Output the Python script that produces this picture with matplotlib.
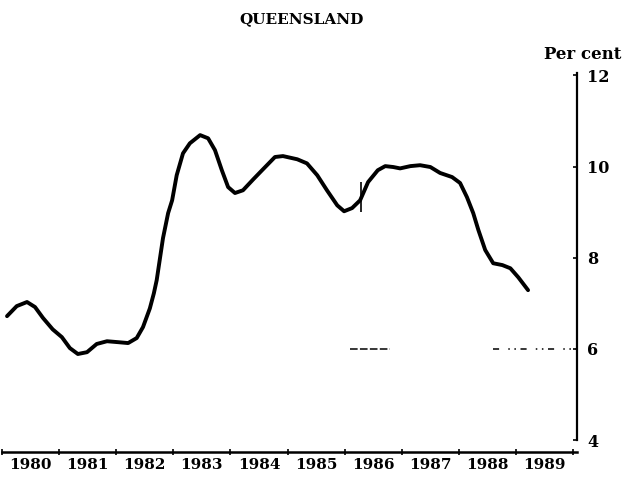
import matplotlib
matplotlib.use("Agg")
import matplotlib.pyplot as plt

# unemployment rate, Queensland
years = [1980.09, 1980.26, 1980.44, 1980.58, 1980.72, 1980.89, 1981.05, 1981.19,
         1981.33, 1981.49, 1981.66, 1981.84, 1982.03, 1982.21, 1982.36, 1982.47,
         1982.59, 1982.66, 1982.71, 1982.82, 1982.91, 1982.98, 1983.06, 1983.17,
         1983.29, 1983.47, 1983.61, 1983.73, 1983.85, 1983.96, 1984.08, 1984.22,
         1984.40, 1984.57, 1984.78, 1984.92, 1985.17, 1985.34, 1985.52, 1985.69,
         1985.87, 1985.99, 1986.13, 1986.27, 1986.41, 1986.58, 1986.71, 1986.85,
         1986.97, 1987.15, 1987.32, 1987.50, 1987.67, 1987.88, 1988.02, 1988.14,
         1988.25, 1988.34, 1988.46, 1988.60, 1988.76, 1988.90, 1989.04, 1989.21]
rate = [6.72, 6.94, 7.03, 6.92, 6.68, 6.43, 6.26, 6.02,
        5.89, 5.93, 6.11, 6.17, 6.15, 6.13, 6.24, 6.48,
        6.89, 7.22, 7.51, 8.43, 8.98, 9.26, 9.81, 10.29,
        10.51, 10.69, 10.62, 10.36, 9.92, 9.55, 9.42, 9.48,
        9.72, 9.94, 10.21, 10.23, 10.16, 10.07, 9.81, 9.48,
        9.15, 9.02, 9.09, 9.26, 9.66, 9.92, 10.01, 9.99,
        9.96, 10.01, 10.03, 9.99, 9.86, 9.77, 9.64, 9.33,
        8.98, 8.61, 8.17, 7.88, 7.84, 7.77, 7.57, 7.29]

year_labels = ["1980", "1981", "1982", "1983", "1984",
               "1985", "1986", "1987", "1988", "1989"]
y_ticks = [4, 6, 8, 10, 12]

# series break marker and faint reference level at 6 per cent
break_year = 1986.28
ref_level = 6

FONT = "DejaVu Serif"

fig = plt.figure(figsize=(6.24, 4.84), dpi=100)
ax = fig.add_axes([0.003, 0.066, 0.922, 0.783])

ax.plot(years, rate, color="black", lw=2.8, solid_joinstyle="round",
        solid_capstyle="round")
ax.vlines(break_year, 9.0, 9.66, color="black", lw=1.2)

# broken gridline at 6
ax.hlines(ref_level, 1986.09, 1986.79, color="black", lw=1.1,
          linestyles=(0, (5, 1.5)))
ax.hlines(ref_level, 1988.6, 1990.07, color="black", lw=1.1,
          linestyles=(0, (4, 6, 1, 3, 1, 3)))

ax.set_xlim(1980, 1990.07)
ax.set_ylim(3.74, 12.05)

for side in ["top", "left"]:
    ax.spines[side].set_visible(False)
ax.spines["right"].set_bounds(4, 12.05)
ax.spines["right"].set_linewidth(1.6)
ax.spines["bottom"].set_linewidth(1.8)

ax.yaxis.tick_right()
ax.set_yticks(y_ticks)
ax.set_yticklabels([str(v) for v in y_ticks], fontfamily=FONT,
                   fontweight="bold", fontsize=11.5)
ax.tick_params(axis="y", direction="in", length=3, width=1.2, pad=7)

ax.set_xticks(range(1980, 1991))
ax.set_xticklabels([])
ax.tick_params(axis="x", which="major", direction="inout", length=4, width=1.2)
ax.set_xticks([int(y) + 0.5 for y in year_labels], minor=True)
ax.set_xticklabels(year_labels, minor=True, fontfamily=FONT,
                   fontweight="bold", fontsize=11)
ax.tick_params(axis="x", which="minor", length=0, pad=4)

fig.text(0.484, 0.96, "QUEENSLAND", ha="center", va="center",
         fontfamily=FONT, fontweight="bold", fontsize=11)
fig.text(0.933, 0.887, "Per cent", ha="center", va="center",
         fontfamily=FONT, fontweight="bold", fontsize=12)

fig.savefig("out.png", dpi=100)
